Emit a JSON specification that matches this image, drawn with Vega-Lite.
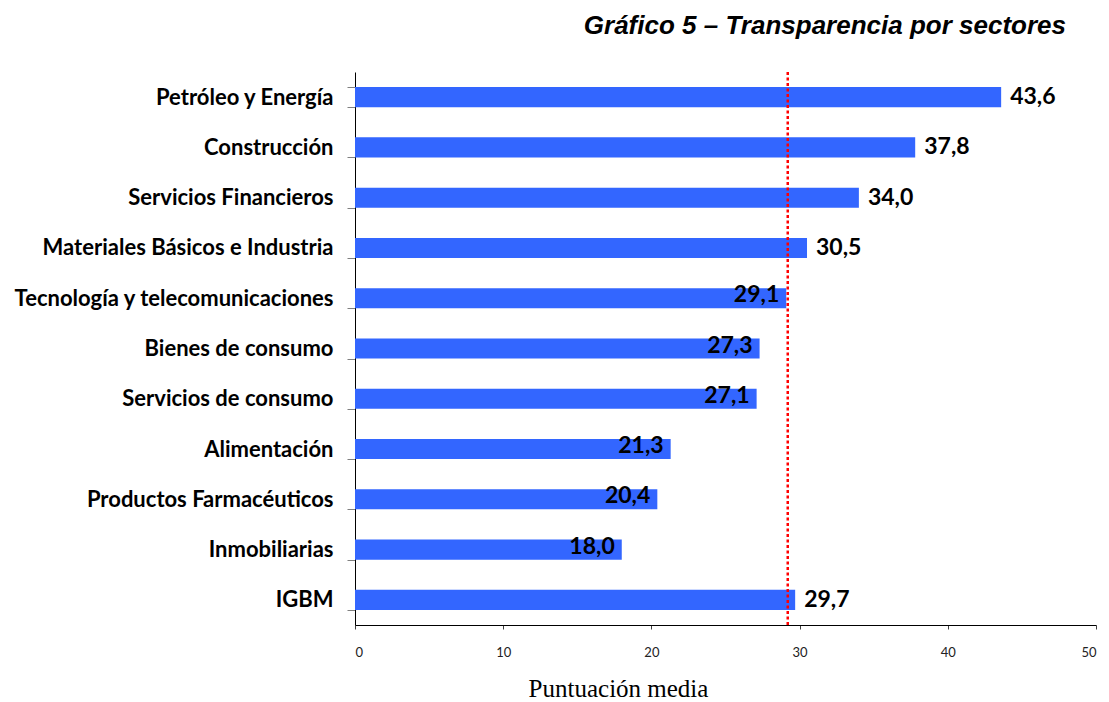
{
  "$schema": "https://vega.github.io/schema/vega-lite/v6.json",
  "width": 741,
  "height": 553,
  "autosize": "none",
  "padding": {"left": 355, "top": 72, "right": 13, "bottom": 77},
  "background": "white",
  "title": {
    "text": "Gráfico 5 – Transparencia por sectores",
    "anchor": "end",
    "frame": "group",
    "dx": -30,
    "offset": 22,
    "font": "Liberation Sans",
    "fontSize": 26,
    "fontWeight": "bold",
    "fontStyle": "italic",
    "color": "black"
  },
  "config": {
    "view": {"stroke": null},
    "axis": {"grid": false}
  },
  "datasets": {
    "bars": [
      {"sector": "Petróleo y Energía", "value": 43.6, "label": "43,6"},
      {"sector": "Construcción", "value": 37.8, "label": "37,8"},
      {"sector": "Servicios Financieros", "value": 34.0, "label": "34,0"},
      {"sector": "Materiales Básicos e Industria", "value": 30.5, "label": "30,5"},
      {"sector": "Tecnología y telecomunicaciones", "value": 29.1, "label": "29,1"},
      {"sector": "Bienes de consumo", "value": 27.3, "label": "27,3"},
      {"sector": "Servicios de consumo", "value": 27.1, "label": "27,1"},
      {"sector": "Alimentación", "value": 21.3, "label": "21,3"},
      {"sector": "Productos Farmacéuticos", "value": 20.4, "label": "20,4"},
      {"sector": "Inmobiliarias", "value": 18.0, "label": "18,0"},
      {"sector": "IGBM", "value": 29.7, "label": "29,7"}
    ],
    "ref": [{"media": 29.2}]
  },
  "layer": [
    {
      "data": {"name": "bars"},
      "mark": {"type": "bar", "color": "#3366FF"},
      "encoding": {
        "y": {
          "field": "sector",
          "type": "nominal",
          "sort": null,
          "scale": {"paddingInner": 0.6, "paddingOuter": 0.3},
          "axis": {
            "title": null,
            "labelFont": "Lato",
            "labelFontSize": 22,
            "labelFontWeight": "bold",
            "labelColor": "black",
            "labelPadding": 14,
            "tickSize": 8,
            "tickColor": "#808080",
            "tickBand": "extent",
            "domainColor": "black",
            "labelLimit": 400
          }
        },
        "x": {
          "field": "value",
          "type": "quantitative",
          "scale": {"domain": [0, 50], "nice": false},
          "axis": {
            "values": [0, 10, 20, 30, 40, 50],
            "title": "Puntuación media",
            "titleFont": "Liberation Serif",
            "titleFontSize": 25,
            "titleFontWeight": "normal",
            "titleColor": "black",
            "titleAnchor": "start",
            "titleAlign": "center",
            "titleX": 263,
            "titleY": 71,
            "titleBaseline": "alphabetic",
            "labelFont": "Lato",
            "labelFontSize": 13,
            "labelColor": "#222222",
            "labelPadding": 17,
            "tickSize": 4,
            "tickColor": "#404040",
            "domainColor": "black"
          }
        }
      }
    },
    {
      "data": {"name": "bars"},
      "transform": [{"filter": {"field": "sector", "oneOf": ["Petróleo y Energía", "Construcción", "Servicios Financieros", "Materiales Básicos e Industria", "IGBM"]}}],
      "mark": {"type": "text", "align": "left", "baseline": "middle", "dx": 9, "dy": 0, "font": "Lato", "fontSize": 23, "fontWeight": "bold", "color": "black"},
      "encoding": {
        "y": {"field": "sector", "type": "nominal", "sort": null},
        "x": {"field": "value", "type": "quantitative"},
        "text": {"field": "label"}
      }
    },
    {
      "data": {"name": "bars"},
      "transform": [{"filter": {"not": {"field": "sector", "oneOf": ["Petróleo y Energía", "Construcción", "Servicios Financieros", "Materiales Básicos e Industria", "IGBM"]}}}],
      "mark": {"type": "text", "align": "right", "baseline": "middle", "dx": -7, "dy": -3, "font": "Lato", "fontSize": 23, "fontWeight": "bold", "color": "black"},
      "encoding": {
        "y": {"field": "sector", "type": "nominal", "sort": null},
        "x": {"field": "value", "type": "quantitative"},
        "text": {"field": "label"}
      }
    },
    {
      "data": {"name": "ref"},
      "mark": {"type": "rule", "color": "#FF0000", "strokeWidth": 2.5, "strokeDash": [3, 2.5]},
      "encoding": {
        "x": {"field": "media", "type": "quantitative"}
      }
    }
  ]
}
